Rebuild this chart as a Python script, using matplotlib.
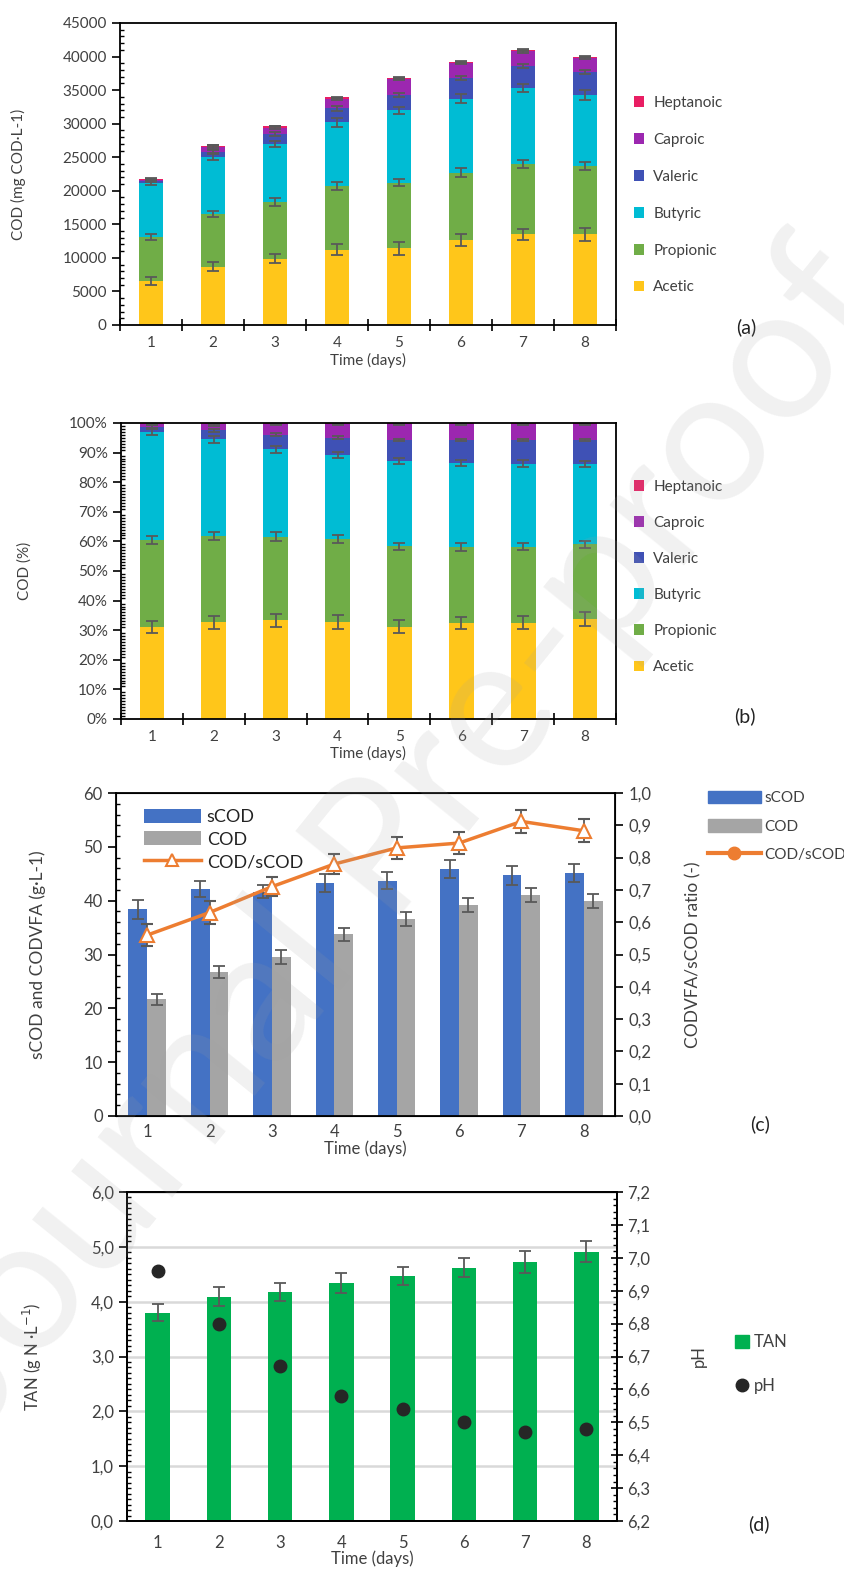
import matplotlib.pyplot as plt
import numpy as np
from matplotlib.ticker import AutoMinorLocator, FuncFormatter, MultipleLocator
from matplotlib.lines import Line2D
from matplotlib.patches import Patch

plt.rcParams['font.family'] = ['Lato', 'DejaVu Sans']

days = [1, 2, 3, 4, 5, 6, 7, 8]
acids = ['Acetic', 'Propionic', 'Butyric', 'Valeric', 'Caproic', 'Heptanoic']
acid_colors = ['#FFC61A', '#70AD47', '#00BCD4', '#3F51B5', '#9C27B0', '#E91E63']

# (a) VFA profile, mg COD/L
cod_acetic = [6600, 8700, 9900, 11200, 11400, 12600, 13500, 13500]
cod_propionic = [6500, 7800, 8400, 9500, 9800, 10100, 10500, 10200]
cod_butyric = [8100, 8600, 8600, 9500, 10800, 11000, 11300, 10600]
cod_valeric = [200, 700, 1500, 2100, 2300, 3100, 3300, 3400]
cod_caproic = [200, 700, 1000, 1400, 2300, 2200, 2200, 2100]
cod_heptanoic = [100, 200, 200, 200, 200, 200, 200, 200]
err_acetic = [600, 700, 700, 800, 900, 900, 850, 1000]
err_propionic = [500, 450, 550, 550, 550, 650, 650, 650]
err_butyric = [350, 550, 450, 650, 500, 650, 650, 750]
err_valeric = [150, 250, 300, 350, 300, 300, 300, 300]
err_caproic = [200, 300, 200, 150, 150, 150, 200, 150]
err_heptanoic = [150, 150, 100, 100, 100, 100, 100, 100]

# (b) VFA profile, %
pct_acetic = [31.2, 32.7, 33.3, 32.7, 31.2, 32.4, 32.6, 33.8]
pct_propionic = [29.2, 29.1, 28.3, 28.1, 27.2, 25.8, 25.6, 25.2]
pct_butyric = [36.6, 32.7, 29.5, 28.3, 28.8, 28.3, 28.1, 27.3]
pct_valeric = [1.7, 3.0, 5.0, 6.0, 7.0, 7.7, 7.9, 7.9]
pct_caproic = [1.1, 2.0, 3.5, 4.6, 5.4, 5.4, 5.4, 5.4]
pct_heptanoic = [0.2, 0.5, 0.4, 0.3, 0.4, 0.4, 0.4, 0.4]
perr_acetic = [2.0, 2.2, 2.3, 2.3, 2.2, 2.1, 2.2, 2.3]
perr_propionic = [1.3, 1.4, 1.5, 1.4, 1.2, 1.3, 1.2, 1.2]
perr_butyric = [1.2, 1.1, 1.1, 1.0, 0.9, 0.9, 1.1, 1.0]
perr_valeric = [0.6, 0.6, 0.5, 0.5, 0.4, 0.4, 0.4, 0.4]
perr_caproic = [0.4, 0.4, 0.3, 0.3, 0.3, 0.3, 0.3, 0.3]
perr_heptanoic = [0.3, 0.3, 0.2, 0.2, 0.2, 0.2, 0.2, 0.2]

# (c) sCOD, COD(VFA) and ratio
scod = [38.4, 42.2, 41.7, 43.3, 43.7, 45.9, 44.7, 45.1]
scod_err = [1.8, 1.5, 1.2, 1.7, 1.6, 1.7, 1.7, 1.7]
cod_vfa = [21.7, 26.7, 29.5, 33.8, 36.6, 39.2, 41.0, 40.0]
cod_vfa_err = [1.0, 1.1, 1.3, 1.2, 1.3, 1.3, 1.3, 1.3]
ratio = [0.56, 0.63, 0.71, 0.78, 0.83, 0.845, 0.912, 0.883]
ratio_err = [0.035, 0.035, 0.03, 0.03, 0.035, 0.035, 0.035, 0.035]

# (d) TAN and pH
tan = [3.80, 4.09, 4.18, 4.34, 4.47, 4.62, 4.73, 4.91]
tan_err = [0.15, 0.17, 0.16, 0.18, 0.17, 0.17, 0.2, 0.19]
ph = [6.96, 6.80, 6.67, 6.58, 6.54, 6.50, 6.47, 6.48]

txt = '#404040'
ekw = dict(ecolor='#595959', elinewidth=1.3, capsize=4, capthick=1.3)
comma = FuncFormatter(lambda v, p: f'{v:.1f}'.replace('.', ','))

W, H = 845, 1577
fig = plt.figure(figsize=(W / 100, H / 100), dpi=100)


def box(x0, y0, x1, y1):
    return [x0 / W, 1 - y1 / H, (x1 - x0) / W, (y1 - y0) / H]


def style(ax, fs):
    for s in ax.spines.values():
        s.set_color('black')
        s.set_linewidth(1.3)
    ax.tick_params(axis='y', which='major', direction='out', length=6, width=1.2,
                   labelsize=fs, labelcolor=txt)
    ax.tick_params(axis='y', which='minor', direction='in', length=3, width=1)
    ax.set_xlim(0.5, 8.5)
    ax.set_xticks(days)
    ax.set_xticklabels([str(d) for d in days])
    ax.tick_params(axis='x', which='major', length=0, labelsize=fs, labelcolor=txt, pad=8)


x = np.array(days)

# ---- (a)
ax_a = fig.add_axes(box(120, 23, 616, 325))
series_a = [cod_acetic, cod_propionic, cod_butyric, cod_valeric, cod_caproic, cod_heptanoic]
errs_a = [err_acetic, err_propionic, err_butyric, err_valeric, err_caproic, err_heptanoic]
bottom = np.zeros(8)
for name, col, vals, err in zip(acids, acid_colors, series_a, errs_a):
    ax_a.bar(x, vals, 0.4, bottom=bottom, color=col, label=name, yerr=err, error_kw=ekw)
    bottom += np.array(vals)
ax_a.set_ylim(0, 45000)
ax_a.yaxis.set_major_locator(MultipleLocator(5000))
ax_a.yaxis.set_minor_locator(AutoMinorLocator(5))
style(ax_a, 11)
ax_a.set_xticks(np.arange(0.5, 9, 1), minor=True)
ax_a.tick_params(axis='x', which='minor', direction='inout', length=9, width=1.2)
ax_a.set_xlabel('Time (days)', fontsize=11, color=txt, labelpad=2)
ax_a.set_ylabel('COD (mg COD·L-1)', fontsize=11, color=txt)
ax_a.yaxis.set_label_coords(-0.19, 0.5)
h, l = ax_a.get_legend_handles_labels()
ax_a.legend(h[::-1], l[::-1], loc='center left', bbox_to_anchor=(1.02, 0.43), frameon=False,
            fontsize=11, handlelength=0.7, handleheight=0.7, labelspacing=1.5,
            handletextpad=0.6, borderpad=0, labelcolor=txt)
fig.text(746 / W, 1 - 327 / H, '(a)', fontsize=14, color='#222222', ha='center', va='center')

# ---- (b)
ax_b = fig.add_axes(box(121, 423, 616, 719))
series_b = [pct_acetic, pct_propionic, pct_butyric, pct_valeric, pct_caproic, pct_heptanoic]
errs_b = [perr_acetic, perr_propionic, perr_butyric, perr_valeric, perr_caproic, perr_heptanoic]
bottom = np.zeros(8)
for name, col, vals, err in zip(acids, acid_colors, series_b, errs_b):
    ax_b.bar(x, vals, 0.4, bottom=bottom, color=col, label=name, yerr=err, error_kw=ekw)
    bottom += np.array(vals)
ax_b.set_ylim(0, 100)
ax_b.yaxis.set_major_locator(MultipleLocator(10))
ax_b.yaxis.set_minor_locator(AutoMinorLocator(10))
ax_b.yaxis.set_major_formatter(FuncFormatter(lambda v, p: f'{v:.0f}%'))
style(ax_b, 11)
ax_b.set_xticks(np.arange(0.5, 9, 1), minor=True)
ax_b.tick_params(axis='x', which='minor', direction='inout', length=9, width=1.2)
ax_b.set_xlabel('Time (days)', fontsize=11, color=txt, labelpad=1)
ax_b.set_ylabel('COD (%)', fontsize=11, color=txt)
ax_b.yaxis.set_label_coords(-0.18, 0.5)
h, l = ax_b.get_legend_handles_labels()
ax_b.legend(h[::-1], l[::-1], loc='center left', bbox_to_anchor=(1.02, 0.48), frameon=False,
            fontsize=11, handlelength=0.7, handleheight=0.7, labelspacing=1.45,
            handletextpad=0.6, borderpad=0, labelcolor=txt)
fig.text(745 / W, 1 - 716 / H, '(b)', fontsize=14, color='#222222', ha='center', va='center')

# ---- (c)
ax_c = fig.add_axes(box(116, 793, 615, 1116))
b1 = ax_c.bar(x - 0.15, scod, 0.3, color='#4472C4', label='sCOD', yerr=scod_err, error_kw=ekw)
b2 = ax_c.bar(x + 0.15, cod_vfa, 0.3, color='#A5A5A5', label='COD', yerr=cod_vfa_err, error_kw=ekw)
ax_c.set_ylim(0, 60)
ax_c.yaxis.set_major_locator(MultipleLocator(10))
ax_c.yaxis.set_minor_locator(AutoMinorLocator(5))
style(ax_c, 12)
ax_c.tick_params(axis='x', pad=6)
ax_c.set_xlabel('Time (days)', fontsize=12, color=txt, labelpad=0)
ax_c.set_ylabel('sCOD and CODVFA (g·L-1)', fontsize=12.5, color=txt)
ax_c.yaxis.set_label_coords(-0.14, 0.5)
ax_c2 = ax_c.twinx()
ln = ax_c2.errorbar(x, ratio, yerr=ratio_err, color='#ED7D31', lw=2.5, marker='^', ms=10,
                    mfc='white', mec='#ED7D31', mew=1.5, **ekw)
ax_c2.set_ylim(0, 1.0)
ax_c2.yaxis.set_major_locator(MultipleLocator(0.1))
ax_c2.yaxis.set_major_formatter(comma)
ax_c2.tick_params(axis='y', direction='out', length=6, width=1.2, labelsize=12, labelcolor=txt)
ax_c2.set_ylabel('CODVFA/sCOD ratio (-)', fontsize=12.5, color=txt)
ax_c2.yaxis.set_label_coords(1.14, 0.5)
tri = Line2D([], [], color='#ED7D31', lw=2.5, marker='^', ms=9, mfc='white', mec='#ED7D31', mew=1.5)
ax_c2.legend([b1, b2, tri], ['sCOD', 'COD', 'COD/sCOD'], loc='upper left',
             bbox_to_anchor=(0.03, 0.99), frameon=False, fontsize=13, handlelength=3.2,
             handleheight=0.8, labelspacing=0.35, handletextpad=0.3, borderpad=0.2,
             labelcolor='#222222')
circ = Line2D([], [], color='#ED7D31', lw=3, marker='o', ms=9)
fig.legend([Patch(color='#4472C4'), Patch(color='#A5A5A5'), circ], ['sCOD', 'COD', 'COD/sCOD'],
           loc='upper left', bbox_to_anchor=(700 / W, 1 - 783 / H), frameon=False, fontsize=11,
           handlelength=3.5, handleheight=0.9, labelspacing=0.9, handletextpad=0.2,
           borderpad=0, labelcolor=txt)
fig.text(760 / W, 1 - 1124 / H, '(c)', fontsize=14, color='#222222', ha='center', va='center')

# ---- (d)
ax_d = fig.add_axes(box(127, 1192, 617, 1521))
ax_d.set_axisbelow(True)
ax_d.grid(axis='y', color='#d9d9d9', lw=1.8)
bt = ax_d.bar(x, tan, 0.4, color='#00B050', label='TAN', yerr=tan_err, error_kw=ekw)
ax_d.set_ylim(0, 6)
ax_d.yaxis.set_major_locator(MultipleLocator(1))
ax_d.yaxis.set_minor_locator(AutoMinorLocator(10))
ax_d.yaxis.set_major_formatter(comma)
style(ax_d, 12)
ax_d.tick_params(axis='x', pad=10)
ax_d.set_xlabel('Time (days)', fontsize=12, color=txt, labelpad=0)
ax_d.set_ylabel('TAN (g N ·L$^{-1}$)', fontsize=12, color=txt)
ax_d.yaxis.set_label_coords(-0.17, 0.5)
ax_d2 = ax_d.twinx()
pp = ax_d2.plot(x, ph, 'o', color='#262626', ms=9, label='pH', zorder=5)[0]
ax_d2.set_ylim(6.2, 7.2)
ax_d2.yaxis.set_major_locator(MultipleLocator(0.1))
ax_d2.yaxis.set_minor_locator(AutoMinorLocator(5))
ax_d2.yaxis.set_major_formatter(comma)
ax_d2.tick_params(axis='y', which='major', direction='inout', length=8, width=1.2,
                  labelsize=12, labelcolor=txt)
ax_d2.tick_params(axis='y', which='minor', direction='in', length=3, width=1)
ax_d2.set_ylabel('pH', fontsize=12, color=txt)
ax_d2.yaxis.set_label_coords(1.15, 0.5)
for s in ax_d2.spines.values():
    s.set_linewidth(1.3)
fig.legend([Patch(color='#00B050'), Line2D([], [], ls='', marker='o', color='#262626', ms=9)],
           ['TAN', 'pH'], loc='upper left', bbox_to_anchor=(727 / W, 1 - 1326 / H), frameon=False,
           fontsize=12, handlelength=0.8, handleheight=0.8, labelspacing=1.65, handletextpad=0.3,
           borderpad=0, labelcolor=txt)
fig.text(759 / W, 1 - 1524 / H, '(d)', fontsize=14, color='#222222', ha='center', va='center')

# watermark
fig.text(0.47, 0.47, 'Journal Pre-proof', rotation=51, fontsize=135, color='#a0a0a0', alpha=0.15,
         ha='center', va='center')

fig.savefig('out.png', dpi=100)
